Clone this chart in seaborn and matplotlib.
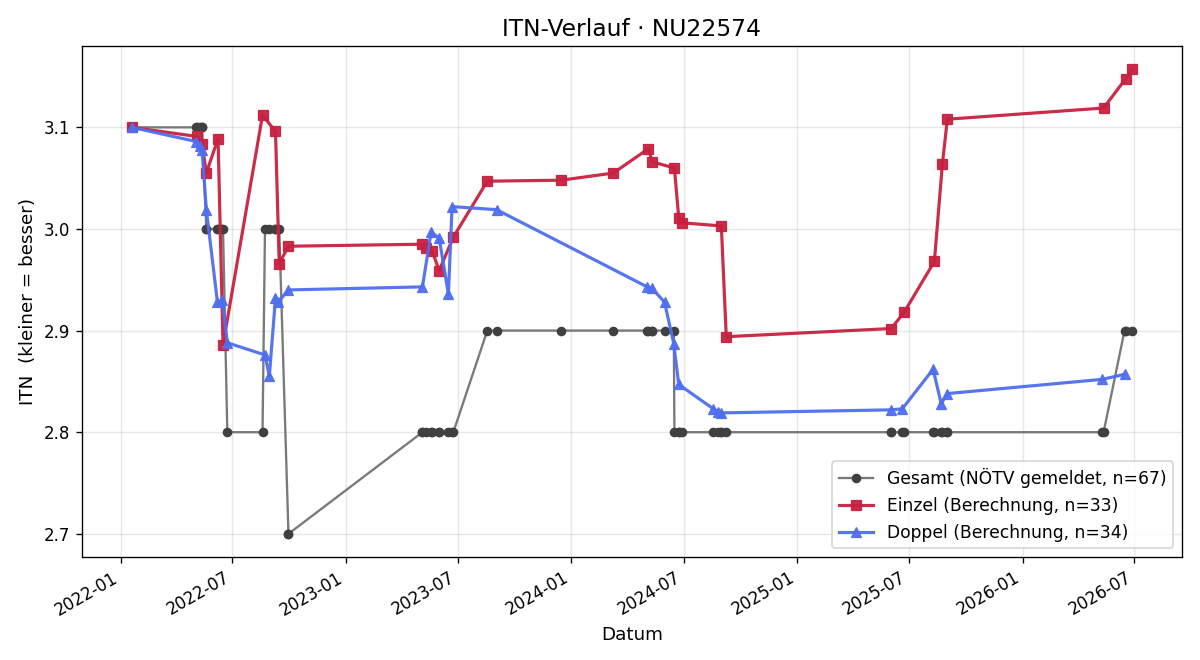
import seaborn as sns
import matplotlib.pyplot as plt
import matplotlib.dates as mdates
import pandas as pd

# Gesamt (NÖTV gemeldet)
gesamt_dates = [
    "2022-01-19", "2022-01-19", "2022-05-04", "2022-05-05", "2022-05-09", "2022-05-13", "2022-05-13",
    "2022-05-20", "2022-05-20", "2022-06-07", "2022-06-08", "2022-06-15", "2022-06-16", "2022-06-23",
    "2022-08-19", "2022-08-23", "2022-08-30", "2022-09-09", "2022-09-09", "2022-09-13", "2022-09-15",
    "2022-09-30", "2022-09-30", "2023-05-05", "2023-05-05", "2023-05-11", "2023-05-19", "2023-05-21",
    "2023-06-01", "2023-06-01", "2023-06-16", "2023-06-22", "2023-06-24", "2023-08-18", "2023-09-02",
    "2023-12-16", "2024-03-09", "2024-05-03", "2024-05-05", "2024-05-10", "2024-05-11", "2024-05-31",
    "2024-06-15", "2024-06-16", "2024-06-23", "2024-06-23", "2024-06-29", "2024-08-18", "2024-08-26",
    "2024-08-30", "2024-08-31", "2024-09-08", "2025-06-02", "2025-06-02", "2025-06-20", "2025-06-23",
    "2025-08-09", "2025-08-11", "2025-08-22", "2025-08-24", "2025-09-01", "2025-09-01", "2026-05-10",
    "2026-05-12", "2026-06-15", "2026-06-17", "2026-06-27",
]
gesamt_itn = [
    3.1, 3.1, 3.1, 3.1, 3.1, 3.1, 3.1,
    3.0, 3.0, 3.0, 3.0, 3.0, 3.0, 2.8,
    2.8, 3.0, 3.0, 3.0, 3.0, 3.0, 3.0,
    2.7, 2.7, 2.8, 2.8, 2.8, 2.8, 2.8,
    2.8, 2.8, 2.8, 2.8, 2.8, 2.9, 2.9,
    2.9, 2.9, 2.9, 2.9, 2.9, 2.9, 2.9,
    2.9, 2.8, 2.8, 2.8, 2.8, 2.8, 2.8,
    2.8, 2.8, 2.8, 2.8, 2.8, 2.8, 2.8,
    2.8, 2.8, 2.8, 2.8, 2.8, 2.8, 2.8,
    2.8, 2.9, 2.9, 2.9,
]

# Einzel (Berechnung)
einzel_dates = [
    "2022-01-19", "2022-05-05", "2022-05-13", "2022-05-20", "2022-06-08", "2022-06-16", "2022-08-19",
    "2022-09-09", "2022-09-15", "2022-09-30", "2023-05-05", "2023-05-11", "2023-05-21", "2023-06-01",
    "2023-06-24", "2023-08-18", "2023-12-16", "2024-03-09", "2024-05-05", "2024-05-11", "2024-06-16",
    "2024-06-23", "2024-06-29", "2024-08-31", "2024-09-08", "2025-06-02", "2025-06-23", "2025-08-11",
    "2025-08-24", "2025-09-01", "2026-05-12", "2026-06-17", "2026-06-27",
]
einzel_itn = [
    3.100, 3.091, 3.084, 3.055, 3.089, 2.886, 3.112,
    3.096, 2.966, 2.983, 2.985, 2.981, 2.978, 2.959,
    2.992, 3.047, 3.048, 3.055, 3.079, 3.066, 3.060,
    3.011, 3.006, 3.003, 2.894, 2.902, 2.918, 2.968,
    3.064, 3.108, 3.119, 3.148, 3.157,
]

# Doppel (Berechnung)
doppel_dates = [
    "2022-01-19", "2022-05-04", "2022-05-09", "2022-05-13", "2022-05-20", "2022-06-07", "2022-06-15",
    "2022-06-23", "2022-08-23", "2022-08-30", "2022-09-09", "2022-09-13", "2022-09-30", "2023-05-05",
    "2023-05-19", "2023-06-01", "2023-06-16", "2023-06-22", "2023-09-02", "2024-05-03", "2024-05-10",
    "2024-05-31", "2024-06-15", "2024-06-23", "2024-08-18", "2024-08-26", "2024-08-30", "2025-06-02",
    "2025-06-20", "2025-08-09", "2025-08-22", "2025-09-01", "2026-05-10", "2026-06-15",
]
doppel_itn = [
    3.100, 3.086, 3.082, 3.078, 3.019, 2.928, 2.930,
    2.888, 2.876, 2.855, 2.932, 2.928, 2.940, 2.943,
    2.997, 2.991, 2.936, 3.022, 3.019, 2.943, 2.942,
    2.928, 2.887, 2.847, 2.823, 2.820, 2.819, 2.822,
    2.823, 2.862, 2.828, 2.838, 2.852, 2.857,
]

gesamt = pd.DataFrame({"Datum": pd.to_datetime(gesamt_dates), "ITN": gesamt_itn})
einzel = pd.DataFrame({"Datum": pd.to_datetime(einzel_dates), "ITN": einzel_itn})
doppel = pd.DataFrame({"Datum": pd.to_datetime(doppel_dates), "ITN": doppel_itn})

plt.rcParams['font.family'] = ['DejaVu Sans']
fig, ax = plt.subplots(figsize=(10, 5.5), dpi=120)

sns.lineplot(data=gesamt, x="Datum", y="ITN", estimator=None, sort=False, ax=ax,
             color="#7a7a7a", linewidth=1.4, marker="o", markersize=5,
             markerfacecolor="#404040", markeredgecolor="#404040",
             label=f"Gesamt (NÖTV gemeldet, n={len(gesamt)})")
sns.lineplot(data=einzel, x="Datum", y="ITN", estimator=None, sort=False, ax=ax,
             color="#c8203f", linewidth=1.9, marker="s", markersize=6,
             markeredgecolor="#c8203f", alpha=0.95,
             label=f"Einzel (Berechnung, n={len(einzel)})")
sns.lineplot(data=doppel, x="Datum", y="ITN", estimator=None, sort=False, ax=ax,
             color="#4f6ef0", linewidth=1.9, marker="^", markersize=6,
             markeredgecolor="#4f6ef0", alpha=0.95,
             label=f"Doppel (Berechnung, n={len(doppel)})")

ax.set_title("ITN-Verlauf · NU22574", fontsize=14)
ax.set_xlabel("Datum", fontsize=11)
ax.set_ylabel("ITN  (kleiner = besser)", fontsize=11)
ax.grid(True, alpha=0.3)
ax.xaxis.set_major_locator(mdates.MonthLocator(bymonth=[1, 7]))
ax.xaxis.set_major_formatter(mdates.DateFormatter("%Y-%m"))
ax.legend(loc="lower right", fontsize=10.3)
fig.autofmt_xdate()

fig.subplots_adjust(left=0.068, right=0.985, top=0.930, bottom=0.156)
plt.savefig("out.png", dpi=120)
